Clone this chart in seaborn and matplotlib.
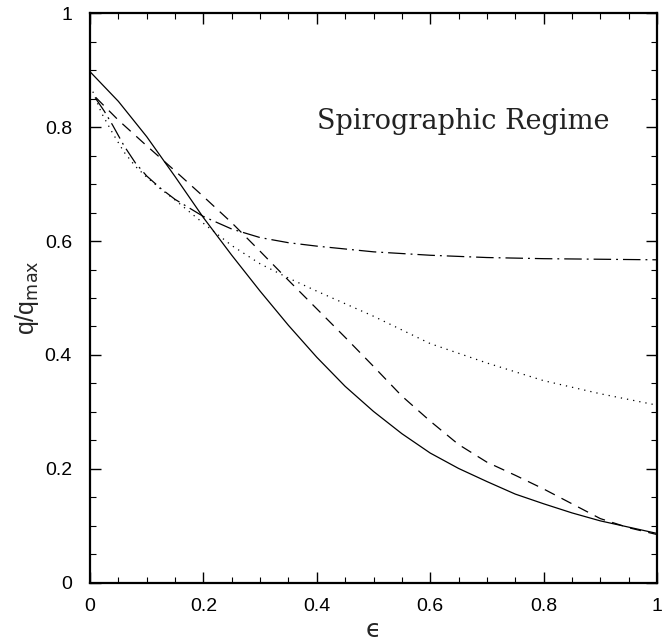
import matplotlib
matplotlib.use("Agg")
import matplotlib.pyplot as plt
import seaborn as sns

# data
eps_solid = [0.0, 0.05, 0.1, 0.15, 0.2, 0.25, 0.3, 0.35, 0.4, 0.45, 0.5,
             0.55, 0.6, 0.65, 0.7, 0.75, 0.8, 0.85, 0.9, 0.95, 1.0]
q_solid = [0.897, 0.845, 0.783, 0.713, 0.641, 0.575, 0.512, 0.452, 0.396, 0.345, 0.301,
           0.262, 0.228, 0.201, 0.178, 0.156, 0.139, 0.123, 0.109, 0.098, 0.087]

eps_dashed = [0.01, 0.05, 0.1, 0.15, 0.2, 0.25, 0.3, 0.35, 0.4, 0.45, 0.5,
              0.55, 0.6, 0.65, 0.7, 0.75, 0.8, 0.85, 0.9, 0.95, 1.0]
q_dashed = [0.852, 0.812, 0.767, 0.723, 0.678, 0.632, 0.582, 0.531, 0.481, 0.431, 0.380,
            0.328, 0.284, 0.243, 0.212, 0.189, 0.165, 0.139, 0.113, 0.097, 0.085]

eps_dotted = [0.005, 0.02, 0.04, 0.06, 0.08, 0.1, 0.125, 0.15, 0.2, 0.25, 0.3, 0.35, 0.4,
              0.5, 0.6, 0.7, 0.8, 0.9, 1.0]
q_dotted = [0.862, 0.825, 0.789, 0.756, 0.731, 0.712, 0.691, 0.672, 0.631, 0.592, 0.560,
            0.535, 0.512, 0.468, 0.420, 0.386, 0.355, 0.332, 0.312]

eps_dashdot = [0.01, 0.025, 0.04, 0.06, 0.08, 0.1, 0.125, 0.15, 0.2, 0.25, 0.3, 0.35, 0.4,
               0.5, 0.6, 0.7, 0.8, 0.9, 1.0]
q_dashdot = [0.850, 0.828, 0.803, 0.767, 0.737, 0.714, 0.692, 0.673, 0.643, 0.621, 0.606,
             0.597, 0.591, 0.581, 0.575, 0.571, 0.569, 0.568, 0.567]

xticks = [0, 0.2, 0.4, 0.6, 0.8, 1.0]
xtick_labels = ["0", "0.2", "0.4", "0.6", "0.8", "1"]
yticks = [0, 0.2, 0.4, 0.6, 0.8, 1.0]
ytick_labels = ["0", "0.2", "0.4", "0.6", "0.8", "1"]

sns.set_theme(style="ticks")
plt.rcParams.update({
    "xtick.direction": "in", "ytick.direction": "in",
    "xtick.top": True, "ytick.right": True,
    "font.family": ["Liberation Sans", "DejaVu Sans"],
})

fig = plt.figure(figsize=(6.62, 6.41), dpi=100)
ax = fig.add_axes([0.136, 0.0905, 0.8564, 0.8892])

lw = 0.9
sns.lineplot(x=eps_solid, y=q_solid, ax=ax, color="black", lw=lw, linestyle="-")
sns.lineplot(x=eps_dashed, y=q_dashed, ax=ax, color="black", lw=lw, linestyle=(0, (9, 6)))
sns.lineplot(x=eps_dotted, y=q_dotted, ax=ax, color="black", lw=lw, linestyle=(0, (1, 4)))
sns.lineplot(x=eps_dashdot, y=q_dashdot, ax=ax, color="black", lw=lw,
             linestyle=(0, (14, 4, 1.5, 4)))

ax.set_xlim(0, 1)
ax.set_ylim(0, 1)
ax.set_xticks(xticks)
ax.set_xticklabels(xtick_labels)
ax.set_yticks(yticks)
ax.set_yticklabels(ytick_labels)
ax.set_xticks([i * 0.05 for i in range(21)], minor=True)
ax.set_yticks([i * 0.05 for i in range(21)], minor=True)
ax.tick_params(which="major", length=8, width=1.0, labelsize=14, color="black",
               labelcolor="black")
ax.tick_params(axis="y", which="major", pad=13)
ax.tick_params(axis="x", which="major", pad=11)
ax.tick_params(which="minor", length=4.5, width=0.8, color="black")
for s in ax.spines.values():
    s.set_linewidth(1.6)
    s.set_color("black")

ax.set_xlabel("\u03f5", fontsize=18, labelpad=2, family="DejaVu Sans")
ax.set_ylabel(r"q/q$_{\rm max}$", fontsize=18, labelpad=3)

ax.text(0.40, 0.81, "Spirographic Regime", fontsize=19.5, family="DejaVu Serif",
        va="center", ha="left", color="#222222")

fig.savefig("out.png", dpi=100)
